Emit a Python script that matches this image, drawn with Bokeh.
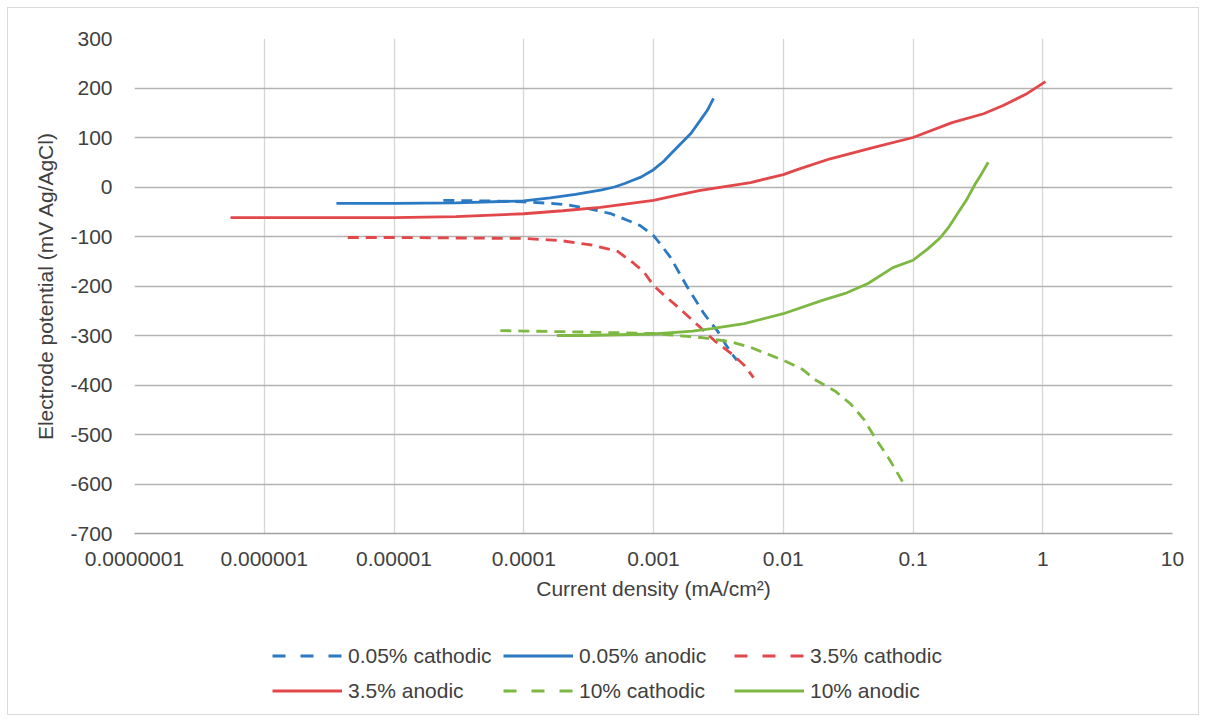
from bokeh.plotting import figure
from bokeh.layouts import column
from bokeh.models import Range1d, FixedTicker, CustomJSTickFormatter, Legend, LegendItem
from bokeh.embed import file_html
from bokeh.resources import INLINE

# ---- data ----
blue_cat_x = [2.4e-5, 5e-5, 1e-4, 1.6e-4, 2.2e-4, 3.2e-4, 4.7e-4, 6e-4, 7.9e-4, 1e-3, 1.15e-3, 1.35e-3, 1.83e-3, 2.45e-3, 2.8e-3, 3.1e-3, 3.6e-3, 4.1e-3, 4.4e-3]
blue_cat_y = [-27, -28, -30, -33, -36, -44, -54, -65, -78, -98, -118, -142, -203, -256, -276, -290, -318, -340, -350]

blue_an_x = [3.6e-6, 1e-5, 3e-5, 1e-4, 1.6e-4, 2.5e-4, 4e-4, 5e-4, 6e-4, 7e-4, 8e-4, 1e-3, 1.2e-3, 1.35e-3, 1.6e-3, 1.94e-3, 2.3e-3, 2.6e-3, 2.9e-3]
blue_an_y = [-33, -33, -32, -28, -22, -15, -6, 0, 7, 14, 20, 35, 52, 66, 86, 108, 135, 155, 179]

red_cat_x = [4.4e-6, 1e-5, 3e-5, 1e-4, 1.9e-4, 3.3e-4, 5.3e-4, 7.1e-4, 8.4e-4, 1e-3, 1.25e-3, 1.55e-3, 2.3e-3, 3e-3, 4e-3, 5e-3, 5.9e-3]
red_cat_y = [-102, -102, -103, -104, -108, -117, -130, -155, -171, -199, -222, -243, -284, -312, -337, -360, -385]

red_an_x = [5.5e-7, 1e-6, 1e-5, 3e-5, 1e-4, 2e-4, 3.9e-4, 1e-3, 1.5e-3, 2.3e-3, 5.6e-3, 1e-2, 1.35e-2, 2.3e-2, 5e-2, 0.1, 0.2, 0.35, 0.5, 0.76, 1.05]
red_an_y = [-62, -62, -62, -60, -54, -48, -41, -27, -17, -7, 9, 25, 37, 57, 80, 100, 130, 148, 165, 189, 213]

green_cat_x = [6.6e-5, 1e-4, 3e-4, 1e-3, 2.3e-3, 4e-3, 5.6e-3, 1e-2, 1.4e-2, 1.8e-2, 2.5e-2, 3.3e-2, 4.2e-2, 5e-2, 6.5e-2, 8.5e-2]
green_cat_y = [-290, -291, -293, -296, -304, -313, -324, -350, -368, -391, -412, -438, -470, -503, -548, -600]

green_an_x = [1.8e-4, 3e-4, 1e-3, 2e-3, 2.8e-3, 5e-3, 1e-2, 2e-2, 3e-2, 4.5e-2, 7e-2, 0.1, 0.13, 0.163, 0.19, 0.22, 0.26, 0.3, 0.34, 0.38]
green_an_y = [-300, -300, -297, -291, -286, -276, -256, -229, -215, -195, -163, -148, -125, -102, -80, -54, -25, 5, 28, 50]

series_labels = ["0.05% cathodic", "0.05% anodic", "3.5% cathodic",
                 "3.5% anodic", "10% cathodic", "10% anodic"]

x_ticks = [1e-7, 1e-6, 1e-5, 1e-4, 1e-3, 1e-2, 1e-1, 1, 10]
y_ticks = [-700, -600, -500, -400, -300, -200, -100, 0, 100, 200, 300]

BLUE = "#2B79C2"
RED = "#E2474A"
GREEN = "#7DB843"
FONT = "Liberation Sans"
FS = "21px"
W = 2.8
DASH = "11 7"
LEG_DASH = "13 15"

series = [
    (blue_cat_x, blue_cat_y, BLUE, True),
    (blue_an_x, blue_an_y, BLUE, False),
    (red_cat_x, red_cat_y, RED, True),
    (red_an_x, red_an_y, RED, False),
    (green_cat_x, green_cat_y, GREEN, True),
    (green_an_x, green_an_y, GREEN, False),
]

# ---- main plot ----
p = figure(width=1190, height=602, x_axis_type="log",
           x_range=Range1d(1e-7, 10), y_range=Range1d(-700, 300),
           output_backend="svg", toolbar_location=None,
           min_border_left=126, min_border_right=26, min_border_top=30,
           min_border_bottom=77)
p.outline_line_color = None
p.background_fill_color = "white"
p.border_fill_color = "white"

p.xgrid.grid_line_color = "#d6d6d6"
p.xgrid.grid_line_width = 1.3
p.ygrid.grid_line_color = "#b3b3b3"
p.ygrid.grid_line_width = 1.3
p.xaxis.ticker = FixedTicker(ticks=x_ticks, minor_ticks=[])
p.yaxis.ticker = FixedTicker(ticks=y_ticks, minor_ticks=[])
p.xgrid.ticker = p.xaxis.ticker
p.ygrid.ticker = p.yaxis.ticker
p.xaxis.formatter = CustomJSTickFormatter(code="""
const e = Math.round(Math.log10(tick));
return e < 0 ? tick.toFixed(-e) : Math.round(tick).toString();
""")
p.yaxis.formatter = CustomJSTickFormatter(code="return Math.round(tick).toString();")

for ax in (p.xaxis[0], p.yaxis[0]):
    ax.major_tick_line_color = None
    ax.minor_tick_line_color = None
    ax.major_label_text_font = FONT
    ax.major_label_text_font_size = FS
    ax.major_label_text_color = "#404040"
    ax.axis_label_text_font = FONT
    ax.axis_label_text_font_size = FS
    ax.axis_label_text_font_style = "normal"
    ax.axis_label_text_color = "#404040"
p.xaxis.axis_line_color = "#a0a0a0"
p.xaxis.axis_line_width = 1.3
p.yaxis.axis_line_color = None
p.xaxis.axis_label = "Current density (mA/cm²)"
p.yaxis.axis_label = "Electrode potential (mV Ag/AgCl)"
p.xaxis.major_label_standoff = 12
p.xaxis.axis_label_standoff = 8
p.yaxis.major_label_standoff = 16
p.yaxis.axis_label_standoff = 10

for xs, ys, c, dashed in series:
    p.line(xs, ys, line_color=c, line_width=W, line_dash=DASH if dashed else "solid")

# ---- legend strip (second figure, legend sits inside its frame) ----
q = figure(width=1190, height=104, x_range=Range1d(0, 1), y_range=Range1d(0, 1),
           output_backend="svg", toolbar_location=None,
           min_border_left=0, min_border_right=0, min_border_top=0, min_border_bottom=0)
q.axis.visible = False
q.grid.visible = False
q.outline_line_color = None
q.border_fill_color = "white"

leg_r = []
for xs, ys, c, dashed in series:
    r = q.line(xs, ys, line_color=c, line_width=3.2, line_dash=LEG_DASH if dashed else "solid")
    r.visible = False
    leg_r.append(r)

# column-major ordering for a 2-row grid
order = [0, 3, 1, 4, 2, 5]
legend = Legend(items=[LegendItem(label=series_labels[i], renderers=[leg_r[i]]) for i in order],
                orientation="vertical", nrows=2, location=(138, 10))
legend.label_text_font = FONT
legend.label_text_font_size = FS
legend.label_text_color = "#404040"
legend.glyph_width = 70
legend.glyph_height = 27
legend.label_height = 27
legend.label_width = 147
legend.label_standoff = 6
legend.spacing = 8
legend.border_line_color = None
legend.background_fill_alpha = 0
legend.inactive_fill_alpha = 0
legend.margin = 0
legend.padding = 0
q.add_layout(legend, "center")

layout = column(p, q, spacing=0)
layout.styles = {"margin": "7px", "border": "1px solid #d9d9d9"}

open("out.html", "w").write(file_html(layout, INLINE))
